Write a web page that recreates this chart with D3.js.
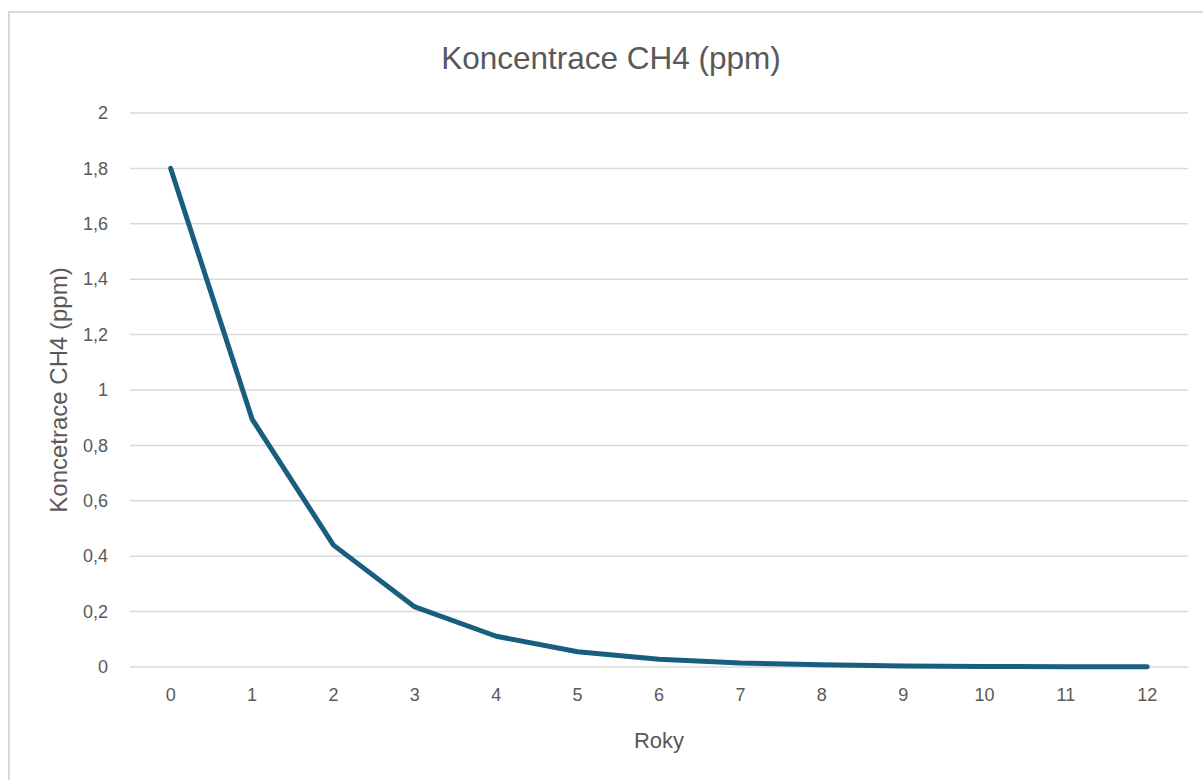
<!DOCTYPE html>
<html>
<head>
<meta charset="utf-8">
<script src="https://cdn.jsdelivr.net/npm/d3@7"></script>
<style>
body { margin: 0; background: #fff; }
</style>
</head>
<body>
<div id="chart"></div>
<script>
// donnees
var roky = [0, 1, 2, 3, 4, 5, 6, 7, 8, 9, 10, 11, 12]
var koncentrace = [1.8, 0.895, 0.44, 0.217, 0.111, 0.055, 0.028, 0.014, 0.008, 0.004, 0.002, 0.001, 0.0005]
var yTicks = [0, 0.2, 0.4, 0.6, 0.8, 1, 1.2, 1.4, 1.6, 1.8, 2]

var width = 1203
var height = 780
var plotLeft = 130, plotRight = 1188, plotTop = 113, plotBottom = 667
var police = "'Liberation Sans', Arial, sans-serif"

var svg = d3.select("#chart").append("svg")
	.attr("width", width)
	.attr("height", height)
	.style("font-family", police)

// cadre du graphique
svg.append("rect")
	.attr("x", 9).attr("y", 12)
	.attr("width", width + 20).attr("height", height + 20)
	.attr("fill", "none")
	.attr("stroke", "#d9d9d9")
	.attr("stroke-width", 2)

var x = d3.scaleBand().domain(roky).range([plotLeft, plotRight])
var y = d3.scaleLinear().domain([0, 2]).range([plotBottom, plotTop])

// grille horizontale
svg.append("g")
	.selectAll("line")
	.data(yTicks)
	.enter()
	.append("line")
	.attr("x1", plotLeft).attr("x2", plotRight)
	.attr("y1", d => y(d)).attr("y2", d => y(d))
	.attr("stroke", "#d9d9d9")
	.attr("stroke-width", 1.5)

// axe y
var yAxis = svg.append("g")
	.attr("transform", "translate(" + plotLeft + ",0)")
	.call(d3.axisLeft(y).tickValues(yTicks).tickSize(0).tickPadding(22)
		.tickFormat(d => String(d).replace(".", ",")))
	.attr("font-family", police)
	.attr("font-size", 18)
yAxis.select(".domain").remove()
yAxis.selectAll("text").attr("fill", "#595959")

// axe x
var xAxis = svg.append("g")
	.attr("transform", "translate(0," + plotBottom + ")")
	.call(d3.axisBottom(x).tickSize(0).tickPadding(21))
	.attr("font-family", police)
	.attr("font-size", 18)
xAxis.select(".domain").remove()
xAxis.selectAll("text").attr("fill", "#595959")

// ligne
var line = d3.line()
	.x((d, i) => x(roky[i]) + x.bandwidth() / 2)
	.y(d => y(d))

svg.append("path")
	.datum(koncentrace)
	.attr("d", line)
	.attr("fill", "none")
	.attr("stroke", "#195e7f")
	.attr("stroke-width", 5)
	.attr("stroke-linecap", "round")
	.attr("stroke-linejoin", "round")

// titres
svg.append("text")
	.text("Koncentrace CH4 (ppm)")
	.attr("x", 611).attr("y", 69)
	.attr("text-anchor", "middle")
	.attr("font-size", "31.5px")
	.attr("fill", "#595959")

svg.append("text")
	.text("Roky")
	.attr("x", (plotLeft + plotRight) / 2).attr("y", 748)
	.attr("text-anchor", "middle")
	.attr("font-size", "22px")
	.attr("fill", "#595959")

svg.append("text")
	.text("Koncetrace CH4 (ppm)")
	.attr("transform", "translate(67,390)rotate(-90)")
	.attr("text-anchor", "middle")
	.attr("font-size", "24px")
	.attr("fill", "#595959")
</script>
</body>
</html>
